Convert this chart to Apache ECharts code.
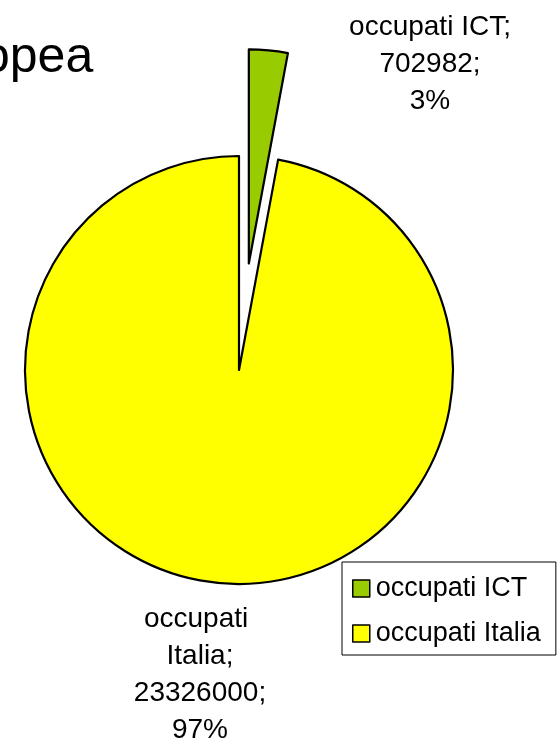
<!DOCTYPE html>
<html>
<head>
<meta charset="utf-8">
<script src="https://cdn.jsdelivr.net/npm/echarts@6/dist/echarts.min.js"></script>
<style>
  html, body { margin: 0; padding: 0; background: #fff; }
  #chart { width: 558px; height: 747px; }
</style>
</head>
<body>
<div id="chart"></div>
<script>
var categories = ['occupati ICT', 'occupati Italia'];
var values = [702982, 23326000];
var colors = ['#99CC00', '#FFFF00'];

var FONT = "'Liberation Sans', Arial, sans-serif";
// where the two outside labels sit (centre of each text block)
var labelPos = [[430, 64], [200, 675]];

var chart = echarts.init(document.getElementById('chart'));

var pieBase = {
    type: 'pie',
    center: [239, 370],
    radius: 214,
    startAngle: 90,
    clockwise: true,
    percentPrecision: 0,
    emphasis: { disabled: true }
};

chart.setOption({
    animation: false,
    backgroundColor: '#fff',
    graphic: [{
        type: 'text',
        left: -18,
        top: 33,
        style: {
            text: 'opea',
            font: '50px ' + FONT,
            fill: '#000'
        }
    }],
    legend: {
        orient: 'vertical',
        left: 342,
        top: 562,
        padding: [13, 15, 8, 10],
        itemGap: 18,
        itemWidth: 17,
        itemHeight: 17,
        icon: 'rect',
        borderColor: '#000',
        borderWidth: 1,
        itemStyle: { borderColor: '#000', borderWidth: 1.5 },
        textStyle: { fontFamily: FONT, fontSize: 27, color: '#000', padding: [0, 0, 0, 1] },
        data: categories
    },
    series: [
        // the slices, ICT pulled out of the pie
        echarts.util.extend({
            selectedMode: 'single',
            selectedOffset: 107,
            itemStyle: { borderColor: '#000', borderWidth: 2.2 },
            label: { show: false },
            labelLine: { show: false },
            data: categories.map(function (name, i) {
                return { name: name, value: values[i], selected: i === 0, itemStyle: { color: colors[i] } };
            })
        }, pieBase),
        // same pie, invisible, only carries the text labels
        echarts.util.extend({
            silent: true,
            itemStyle: { color: 'transparent', borderWidth: 0 },
            labelLine: { show: false },
            label: {
                show: true,
                position: 'outside',
                formatter: '{b};\n{c};\n{d}%',
                fontFamily: FONT,
                fontSize: 28,
                lineHeight: 37,
                color: '#000',
                align: 'center'
            },
            labelLayout: function (params) {
                var p = labelPos[params.dataIndex];
                return { x: p[0], y: p[1], align: 'center', verticalAlign: 'middle' };
            },
            data: categories.map(function (name, i) {
                var item = { name: name, value: values[i] };
                if (i === 1) item.label = { width: 150, overflow: 'break' };
                return item;
            })
        }, pieBase)
    ]
});
</script>
</body>
</html>
